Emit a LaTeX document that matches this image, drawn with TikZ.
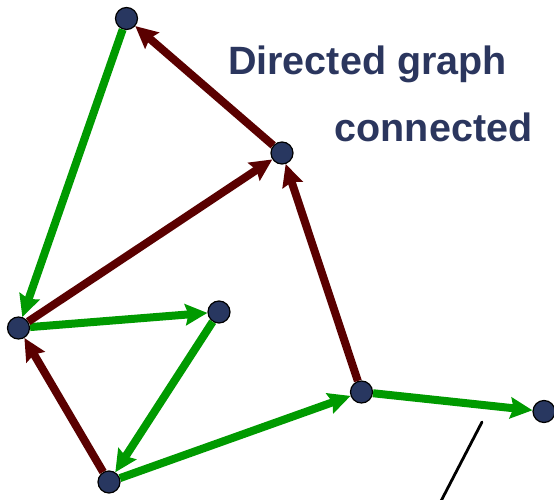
\documentclass[tikz,border=0pt]{standalone}
\usepackage{fontspec}
\setmainfont{Liberation Sans}
\usetikzlibrary{arrows.meta}

\definecolor{vertexblue}{HTML}{283760}
\definecolor{treegreen}{HTML}{009A00}
\definecolor{backred}{HTML}{5A0000}
\definecolor{titleblue}{HTML}{2B365E}

\begin{document}
\begin{tikzpicture}[x=1pt, y=-1pt, >={Stealth[length=22pt, width=21pt, inset=3pt]},
    vertex/.style={circle, draw=black, line width=1.2pt, fill=vertexblue, minimum size=22pt, inner sep=0pt},
    tree/.style={->, line width=8pt, treegreen},
    back/.style={->, line width=8pt, backred},
    title/.style={font=\bfseries\fontsize{39.5}{44}\selectfont, text=titleblue, inner sep=0pt, anchor=base}]
    \useasboundingbox (0,0) rectangle (554,500);

    \node[title] (heading) at (367.5,75) {Directed graph};
    \node[title] (property) at (433.5,141.5) {connected};

    \coordinate (cut1) at (482,422);
    \coordinate (cut2) at (440,503);
    \draw[line width=2.8pt, line cap=round] (cut1) -- (cut2);

    % vertices
    \node[vertex] (a) at (126.5,18.5) {};
    \node[vertex] (b) at (282,153) {};
    \node[vertex] (c) at (18.5,328) {};
    \node[vertex] (d) at (219,312) {};
    \node[vertex] (e) at (361.5,392) {};
    \node[vertex] (f) at (544,411.5) {};
    \node[vertex] (g) at (109,482) {};

    % tree edges and back edges
    \draw[tree] (a) -- (c);
    \draw[tree] (c) -- (d);
    \draw[tree] (d) -- (g);
    \draw[tree] (g) -- (e);
    \draw[tree] (e) -- (f);
    \draw[back] (b) -- (a);
    \draw[back] (c) -- (b);
    \draw[back] (g) -- (c);
    \draw[back] (e) -- (b);
\end{tikzpicture}
\end{document}
